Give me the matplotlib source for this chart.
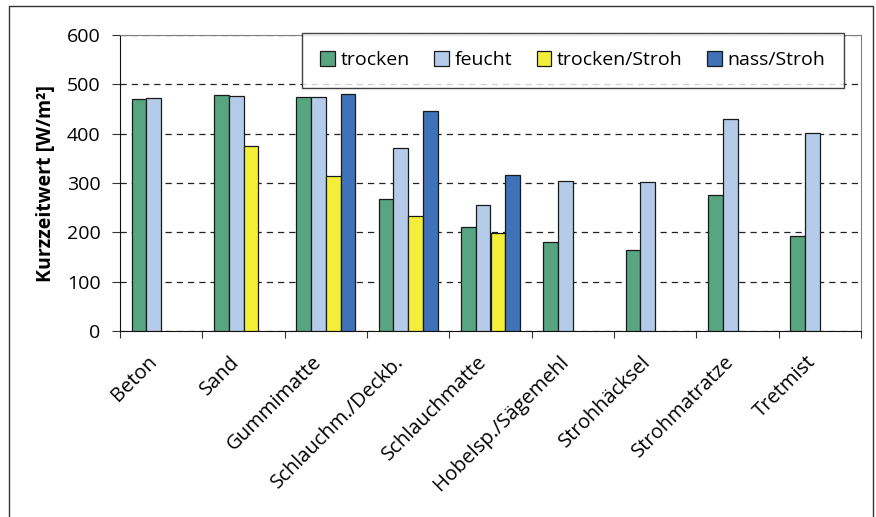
import matplotlib
matplotlib.use("Agg")
import matplotlib.pyplot as plt
import numpy as np
from matplotlib.patches import Rectangle

plt.rcParams['font.family'] = ['Open Sans', 'DejaVu Sans']

categories = ["Beton", "Sand", "Gummimatte", "Schlauchm./Deckb.", "Schlauchmatte",
              "Hobelsp./Sägemehl", "Strohhäcksel", "Strohmatratze", "Tretmist"]
series_names = ["trocken", "feucht", "trocken/Stroh", "nass/Stroh"]
trocken = [470, 478, 474, 268, 211, 180, 165, 276, 193]
feucht = [472, 476, 475, 370, 256, 304, 302, 430, 401]
trocken_stroh = [np.nan, 376, 315, 234, 199, np.nan, np.nan, np.nan, np.nan]
nass_stroh = [np.nan, np.nan, 480, 446, 317, np.nan, np.nan, np.nan, np.nan]
colors = ["#58A582", "#B4CCEA", "#F2EE3A", "#3F72B8"]
yticks = [0, 100, 200, 300, 400, 500, 600]

fs = 14

fig = plt.figure(figsize=(8.76, 5.17), dpi=100)
ax = fig.add_axes([120 / 876, 1 - 331 / 517, 741 / 876, 296 / 517])

# outer frame around the whole chart
fig.patches.append(Rectangle((9 / 876, -0.05), 864 / 876, 1.05 - 6 / 517,
                             transform=fig.transFigure, fill=False,
                             edgecolor="#333333", linewidth=1.0))

x = np.arange(len(categories))
w = 0.179
data = [trocken, feucht, trocken_stroh, nass_stroh]
for i, (vals, c, name) in enumerate(zip(data, colors, series_names)):
    ax.bar(x - 1.5 * w + i * w, vals, width=w, color=c, edgecolor="#1a1a1a",
           linewidth=0.9, label=name, zorder=3)

ax.set_xlim(-0.5, len(categories) - 0.5)
ax.set_ylim(0, 600)
ax.set_yticks(yticks)
ax.set_yticklabels([str(v) for v in yticks], fontsize=fs)
ax.yaxis.grid(True, linestyle=(0, (5, 4)), color="#222222", linewidth=0.9, zorder=0)
ax.set_axisbelow(True)

ax.set_xticks(np.arange(len(categories) + 1) - 0.5, minor=False)
ax.set_xticklabels([])
ax.tick_params(axis='x', length=5, direction='out', color="#333333")
ax.tick_params(axis='y', length=6, direction='out', pad=8, color="#333333")
for xi, lab in zip(x, categories):
    ax.annotate(lab, xy=(xi, 0), xycoords=('data', 'axes fraction'),
                xytext=(-10, -15), textcoords='offset points',
                rotation=45, rotation_mode='anchor', ha='right', va='top',
                fontsize=14.5)

for s in ['top', 'right']:
    ax.spines[s].set_color("#808080")
for s in ['left', 'bottom']:
    ax.spines[s].set_color("#111111")

ax.set_ylabel("Kurzzeitwert [W/m²]", fontsize=fs, fontweight='bold', labelpad=8)

leg = ax.legend(ncol=4, loc='upper left', bbox_to_anchor=((302 - 120) / 741, 1.007),
                frameon=True, fancybox=False, fontsize=fs, handlelength=0.75,
                handleheight=0.75, handletextpad=0.3, columnspacing=1.25,
                borderpad=0.95, borderaxespad=0)
leg.get_frame().set_edgecolor("#111111")
leg.get_frame().set_linewidth(1.0)
leg.set_zorder(5)

fig.savefig("out.png", dpi=100)
